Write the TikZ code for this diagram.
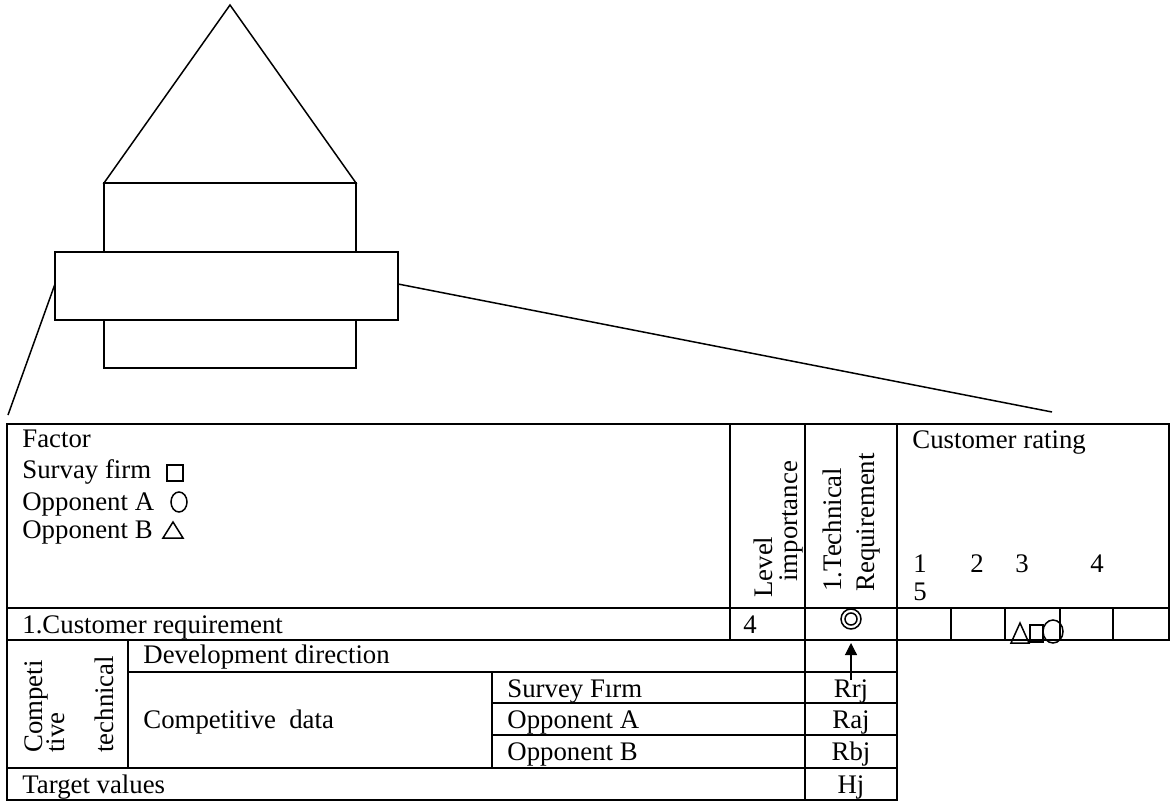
\documentclass[tikz,border=0pt]{standalone}
\usepackage{fontspec}
\setmainfont{Liberation Serif}
\usepackage{tikz}
\usetikzlibrary{arrows.meta}
\tikzstyle{txt} = [anchor=base west, inner sep=0pt, font=\fontsize{13.4}{15}\selectfont]
\tikzstyle{ctxt} = [txt, anchor=base]
\tikzstyle{vtxt} = [txt, rotate=90]
\tikzstyle{grid} = [line width=1pt]
\tikzstyle{thin} = [line width=0.75pt]
\tikzstyle{arrow} = [line width=0.6pt, -{Triangle[length=6pt,width=6pt]}]

\begin{document}
\begin{tikzpicture}[x=0.5pt, y=-0.5pt]
\useasboundingbox (0,0) rectangle (1172,802);

% House of quality sketch
\draw[thin] (104,183) -- (230,5) -- (356,183) -- cycle;
\draw[thin] (104,183) rectangle (356,368);
\draw[thin, fill=white] (55,252) rectangle (398,320);

% Zoom lines down to the table
\coordinate (bandL) at (55,284);
\coordinate (bandR) at (398,284);
\coordinate (tabL) at (8,415);
\coordinate (tabR) at (1052,412);
\draw[thin] (bandL) -- (tabL);
\draw[thin] (bandR) -- (tabR);

% Table grid
\draw[grid] (7,424) rectangle (1169,608);
\draw[grid] (7,608) rectangle (1169,640);
\draw[grid] (7,640) -- (7,800) -- (897,800) -- (897,424);
\draw[grid] (730,424) -- (730,640);
\draw[grid] (805,424) -- (805,800);
\foreach \x in {951,1005,1060,1113}
  \draw[grid] (\x,608) -- (\x,640);
\draw[grid] (128,640) -- (128,768);
\draw[grid] (492,672) -- (492,768);
\draw[grid] (128,672) -- (897,672);
\draw[grid] (492,703) -- (897,703);
\draw[grid] (492,735) -- (897,735);
\draw[grid] (7,768) -- (897,768);

% Header texts
\node[txt] (factor) at (22,447) {Factor};
\node[txt] (firm) at (22,478) {Survay firm};
\node[txt] (oppA) at (22,510) {Opponent A};
\node[txt] (oppB) at (22,538) {Opponent B};
\draw[thin] (167,465) rectangle (183,481);
\draw[thin] (179,502) ellipse (8 and 10);
\draw[thin] (163,538) -- (173,522) -- (183,538) -- cycle;

\node[vtxt] (level) at (772,598) {Level};
\node[vtxt] (imp) at (797,582) {importance};
\node[vtxt] (tech) at (841,592) {1.Technical};
\node[vtxt] (req) at (874,592) {Requirement};

\node[txt] (rating) at (912,448) {Customer rating};
\node[txt] (r1) at (913,572) {1};
\node[txt] (r2) at (970,572) {2};
\node[txt] (r3) at (1015,572) {3};
\node[txt] (r4) at (1090,572) {4};
\node[txt] (r5) at (913,600) {5};

% Customer requirement row
\node[txt] (custreq) at (22,633) {1.Customer requirement};
\node[txt] (lvl) at (743,633) {4};
\node[circle, draw, thin, minimum size=10pt, inner sep=0pt] (rel) at (851,619) {};
\draw[thin] (rel) circle (3pt);
\draw[thin] (1011,643) -- (1020,623) -- (1029,643) -- cycle;
\draw[thin] (1030,625) rectangle (1043,642);
\draw[thin] (1053,631.5) ellipse (10 and 11.5);

% Competitive technical block
\node[vtxt] (comp1) at (42,753) {Competi};
\node[vtxt] (comp2) at (64,753) {tive};
\node[vtxt] (comp3) at (113,753) {technical};
\node[txt] (devdir) at (143,663) {Development direction};
\node[txt] (compdata) at (143,728) {Competitive~ data};
\node[txt] (svf) at (507,697) {Survey Fırm};
\node[txt] (opa) at (507,728) {Opponent A};
\node[txt] (opb) at (507,760) {Opponent B};
\node[ctxt] (rrj) at (851,697) {Rrj};
\node[ctxt] (raj) at (851,728) {Raj};
\node[ctxt] (rbj) at (851,760) {Rbj};

% Target values
\node[txt] (target) at (22,793) {Target values};
\node[ctxt] (hj) at (851,793) {Hj};

% Direction arrow
\coordinate (tail) at (851,680);
\draw[arrow] (tail) -- (851,643);
\end{tikzpicture}
\end{document}
